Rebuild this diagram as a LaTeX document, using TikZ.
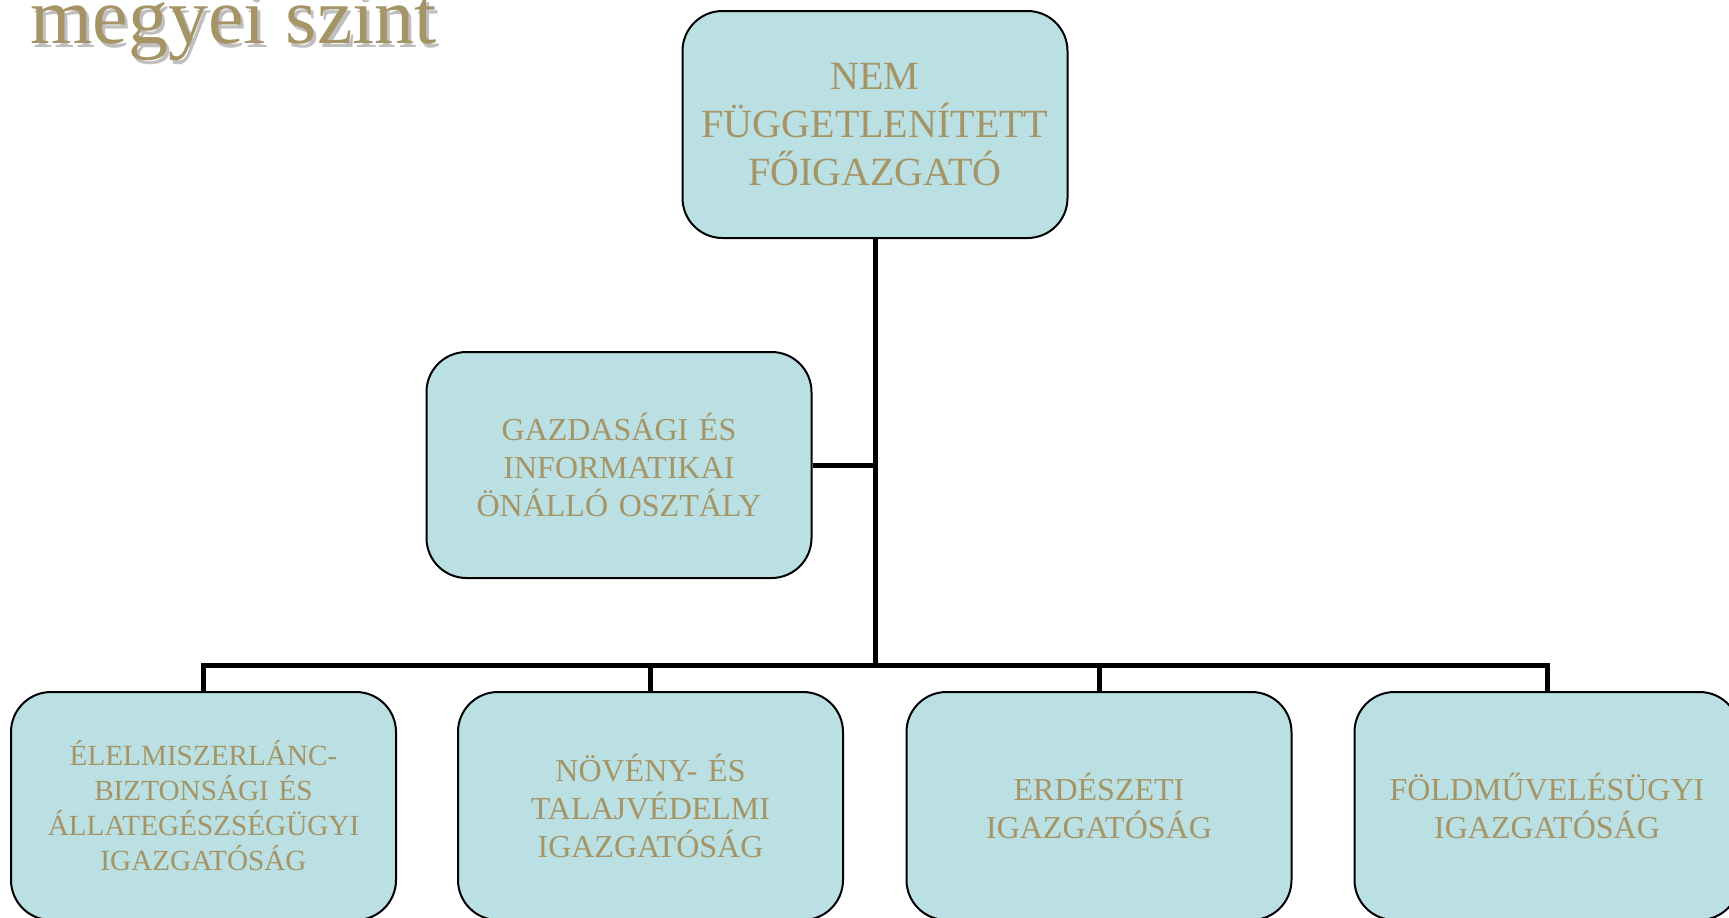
\documentclass[tikz,border=0pt]{standalone}
\usepackage{fontspec}
\setmainfont{Liberation Serif}
\definecolor{gold}{RGB}{165,149,102}
\definecolor{boxfill}{RGB}{186,224,227}
\begin{document}
\begin{tikzpicture}[x=0.5pt,y=-0.5pt,
  orgbox/.style={draw=black,line width=1pt,fill=boxfill,rounded corners=20pt,
    text=gold,align=center,inner sep=0pt,
    minimum width=192.5pt,minimum height=114pt,text width=185pt},
  bigtxt/.style={font=\fontsize{20}{24}\selectfont},
  midtxt/.style={font=\fontsize{16}{19}\selectfont},
  smalltxt/.style={font=\fontsize{14.6}{17.5}\selectfont},
  conn/.style={line width=2.5pt,draw=black,line join=miter}]
\clip (0,0) rectangle (1729,917);
\useasboundingbox (0,0) rectangle (1729,917);
% title
\node[anchor=base west,inner sep=0pt,text=black,opacity=0.25,
  font=\fontsize{40}{48}\selectfont] (titleshadow) at (33,47) {megyei szint};
\node[anchor=base west,inner sep=0pt,text=gold,
  font=\fontsize{40}{48}\selectfont] (title) at (30,43) {megyei szint};
% boxes
\node[orgbox,bigtxt,minimum height=113.5pt] (top) at (875,124.5)
  {NEM\\FÜGGETLENÍTETT\\FŐIGAZGATÓ};
\node[orgbox,midtxt,minimum height=113pt] (mid) at (619,465)
  {GAZDASÁGI ÉS\\INFORMATIKAI\\ÖNÁLLÓ OSZTÁLY};
\node[orgbox,smalltxt] (b1) at (203.5,806)
  {ÉLELMISZERLÁNC-\\BIZTONSÁGI ÉS\\ÁLLATEGÉSZSÉGÜGYI\\IGAZGATÓSÁG};
\node[orgbox,midtxt] (b2) at (650.5,806)
  {NÖVÉNY- ÉS\\TALAJVÉDELMI\\IGAZGATÓSÁG};
\node[orgbox,midtxt] (b3) at (1099,806)
  {ERDÉSZETI\\IGAZGATÓSÁG};
\node[orgbox,midtxt] (b4) at (1547,806)
  {FÖLDMŰVELÉSÜGYI\\IGAZGATÓSÁG};
% connectors
\coordinate (bus) at (875,665);
\coordinate (midj) at (875,465);
\draw[conn] (top.south) -- (bus);
\draw[conn] (mid.east) -- (midj);
\draw[conn] (bus) -| (b1.north);
\draw[conn] (bus) -| (b2.north);
\draw[conn] (bus) -| (b3.north);
\draw[conn] (bus) -| (b4.north);
\end{tikzpicture}
\end{document}
